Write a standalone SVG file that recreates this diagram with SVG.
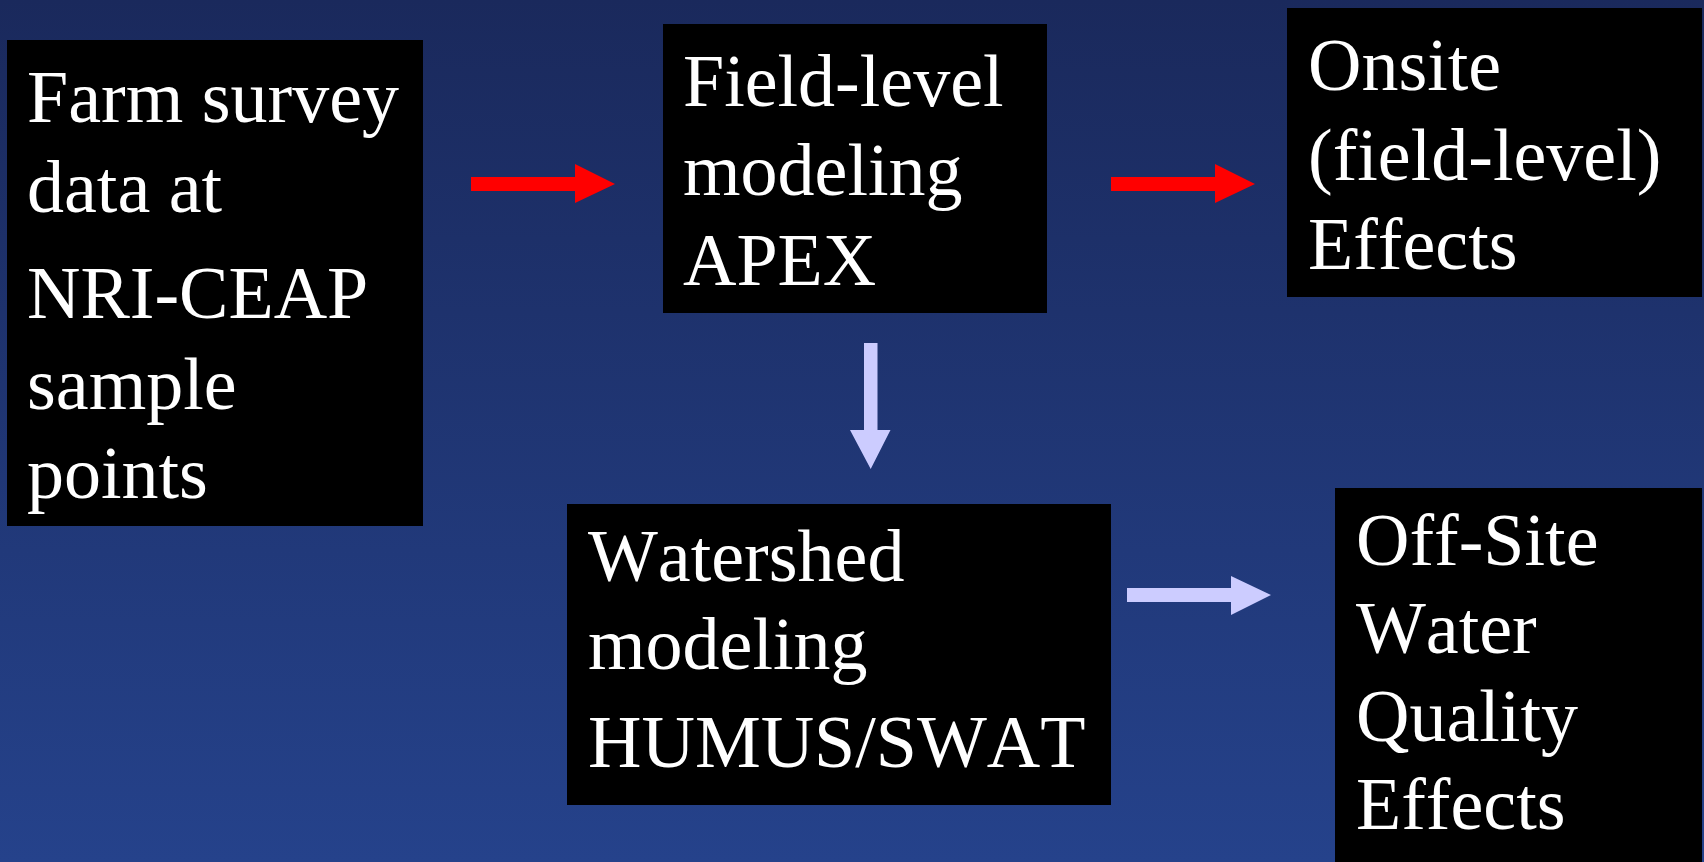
<svg xmlns="http://www.w3.org/2000/svg" width="1704" height="862" viewBox="0 0 1704 862">
  <defs>
    <linearGradient id="bg" x1="0" y1="0" x2="0" y2="1">
      <stop offset="0" stop-color="#1A295C"/>
      <stop offset="1" stop-color="#25428B"/>
    </linearGradient>
  </defs>
  <style>
    .box { fill: #000000; }
    .t { font-family: "Liberation Serif", "Times New Roman", serif; font-size: 74px; fill: #FFFFFF; font-kerning: none; }
    .red { fill: #FF0000; }
    .lav { fill: #CCCCFF; }
  </style>
  <rect x="0" y="0" width="1704" height="862" fill="url(#bg)"/>

  <g id="connectors">
    <polygon class="red" points="471,177 575,177 575,164 615,184 575,203 575,191 471,191"/>
    <polygon class="red" points="1111,177 1215,177 1215,164 1255,184 1215,203 1215,191 1111,191"/>
    <polygon class="lav" points="864,343 877.5,343 877.5,430 890.5,430 870.7,469 850,430 864,430"/>
    <polygon class="lav" points="1127,588 1231,588 1231,576 1271,595 1231,615 1231,602 1127,602"/>
  </g>

  <g id="farm-survey">
    <rect class="box" x="7" y="40" width="416" height="486"/>
    <text class="t" x="27" y="122">Farm survey</text>
    <text class="t" x="27" y="212">data at</text>
    <text class="t" x="27" y="318">NRI-CEAP</text>
    <text class="t" x="27" y="409">sample</text>
    <text class="t" x="27" y="498">points</text>
  </g>

  <g id="field-level">
    <rect class="box" x="663" y="24" width="384" height="289"/>
    <text class="t" x="683" y="106">Field-level</text>
    <text class="t" x="683" y="195">modeling</text>
    <text class="t" x="683" y="285">APEX</text>
  </g>

  <g id="onsite">
    <rect class="box" x="1287" y="8" width="415" height="289"/>
    <text class="t" x="1308" y="90">Onsite</text>
    <text class="t" x="1308" y="180">(field-level)</text>
    <text class="t" x="1308" y="269">Effects</text>
  </g>

  <g id="watershed">
    <rect class="box" x="567" y="504" width="544" height="301"/>
    <text class="t" x="588" y="581">Watershed</text>
    <text class="t" x="588" y="669">modeling</text>
    <text class="t" x="588" y="767">HUMUS/SWAT</text>
  </g>

  <g id="offsite">
    <rect class="box" x="1335" y="488" width="367" height="374"/>
    <text class="t" x="1356" y="565">Off-Site</text>
    <text class="t" x="1356" y="653">Water</text>
    <text class="t" x="1356" y="741">Quality</text>
    <text class="t" x="1356" y="829">Effects</text>
  </g>
</svg>
